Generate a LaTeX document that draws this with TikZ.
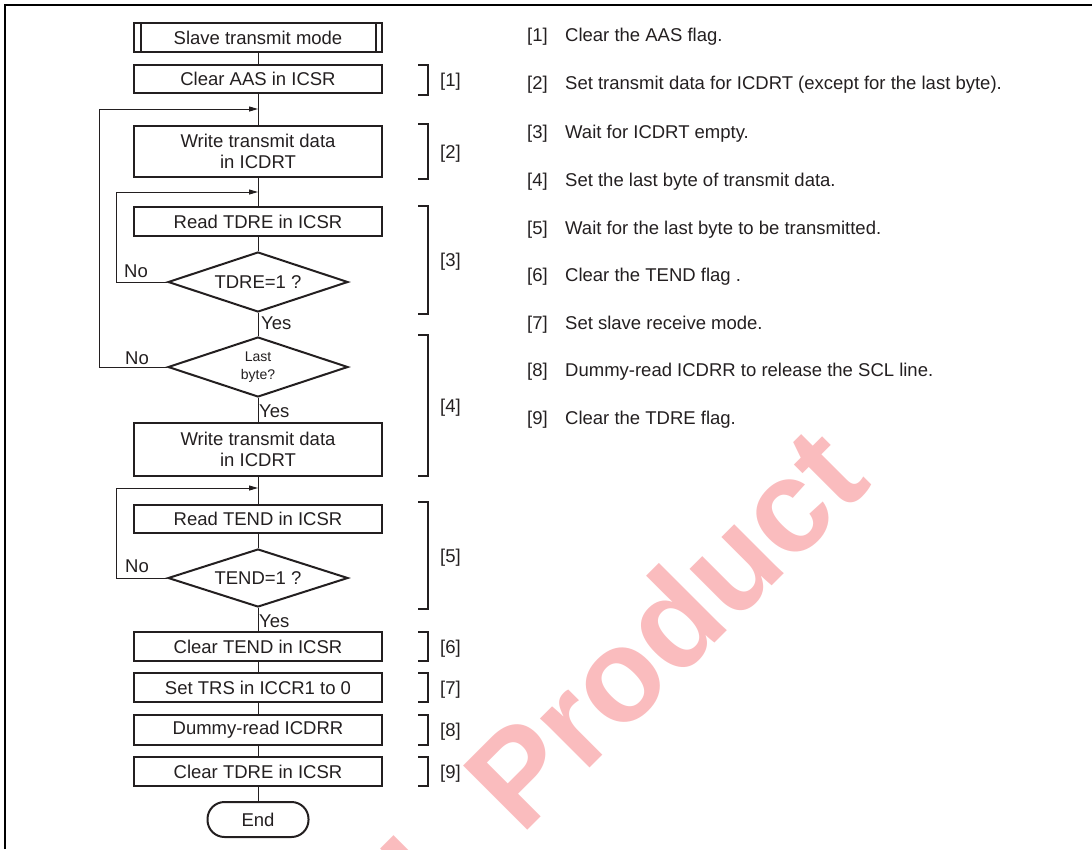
\documentclass[tikz,border=0pt]{standalone}
\usepackage{fontspec}
\setmainfont{Liberation Sans}
\usetikzlibrary{arrows.meta, shapes.geometric}
\definecolor{wmark}{HTML}{FABCBE}
\definecolor{ink}{HTML}{231F20}
\newcommand{\fsz}{\fontsize{18.5}{21.7}\selectfont}
\tikzset{
  box/.style={draw=ink, line width=2pt, fill=white, align=center, font=\fsz,
              minimum width=248pt, inner sep=0pt, text=ink},
  dec/.style={diamond, aspect=3, draw=ink, line width=2pt, fill=white, align=center,
              font=\fsz, minimum width=180pt, minimum height=60pt, inner sep=0pt, text=ink},
  term/.style={box, rounded corners=17pt, minimum width=101pt, minimum height=35pt},
  link/.style={draw=ink, line width=1pt},
  back/.style={link, -{Triangle[length=9pt,width=5pt]}},
  brk/.style={draw=ink, line width=1.2pt},
  tag/.style={font=\fsz, inner sep=0pt, text=ink},
  note/.style={tag, anchor=base west},
  wm/.style={font=\fontsize{132}{132}\selectfont\bfseries, text=wmark, inner sep=0pt},
}

\begin{document}
\begin{tikzpicture}[x=1pt, y=-1pt]
\useasboundingbox (0,0) rectangle (1092,849);

% ---------------- watermark ----------------
\begin{scope}
  \clip (0,0) rectangle (1092,849);
  \node[wm, rotate=45, anchor=base west] (wmk) at (438,920) {L Product};
\end{scope}

% ---------------- frame ----------------
\draw[line width=2.6pt] (5,849) -- (5,5) -- (1092,5);

% ---------------- flow ----------------
\node[box, minimum height=29pt] (start) at (258,37.5) {Slave transmit mode};
\draw[line width=2pt, ink] ([xshift=7.5pt]start.north west) -- ([xshift=7.5pt]start.south west);
\draw[line width=2pt, ink] ([xshift=-7.5pt]start.north east) -- ([xshift=-7.5pt]start.south east);
\node[box, minimum height=28pt] (aas) at (258,79) {Clear AAS in ICSR};
\node[box, minimum height=51pt] (wr1) at (258,151.5) {Write transmit data\\in ICDRT};
\node[box, minimum height=29pt] (rdtdre) at (258,221.5) {Read TDRE in ICSR};
\node[dec] (qtdre) at (258,282) {TDRE=1 ?};
\node[dec, font=\fontsize{14}{18}\selectfont] (qlast) at (258,367) {Last\\byte?};
\node[box, minimum height=53pt] (wr2) at (258,449.5) {Write transmit data\\in ICDRT};
\node[box, minimum height=28pt] (rdtend) at (258,518.5) {Read TEND in ICSR};
\node[dec, minimum height=58pt] (qtend) at (258,578) {TEND=1 ?};
\node[box, minimum height=29pt] (clrtend) at (258,646.5) {Clear TEND in ICSR};
\node[box, minimum height=29pt] (settrs) at (258,687.5) {Set TRS in ICCR1 to 0};
\node[box, minimum height=30pt] (dummy) at (258,730) {Dummy-read ICDRR};
\node[box, minimum height=29pt] (clrtdre) at (258,771.5) {Clear TDRE in ICSR};
\node[term] (fin) at (258,819.5) {End};

\coordinate (j1) at (258,109);
\coordinate (j2) at (258,192);
\coordinate (j3) at (258,488);

\draw[link] (start) -- (aas);
\draw[link] (aas) -- (wr1);
\draw[link] (wr1) -- (rdtdre);
\draw[link] (rdtdre) -- (qtdre);
\draw[link] (qtdre) -- (qlast);
\draw[link] (qlast) -- (wr2);
\draw[link] (wr2) -- (rdtend);
\draw[link] (rdtend) -- (qtend);
\draw[link] (qtend) -- (clrtend);
\draw[link] (clrtend) -- (settrs);
\draw[link] (settrs) -- (dummy);
\draw[link] (dummy) -- (clrtdre);
\draw[link] (clrtdre) -- (fin);

\draw[back] (qlast.west) -- ++(-68,0) |- (j1);
\draw[back] (qtdre.west) -- ++(-51,0) |- (j2);
\draw[back] (qtend.west) -- ++(-51,0) |- (j3);

\node[note] (no1) at (124,277) {No};
\node[note] (yes1) at (261,329) {Yes};
\node[note] (no2) at (125,364) {No};
\node[note] (yes2) at (259,417) {Yes};
\node[note] (no3) at (125,572) {No};
\node[note] (yes3) at (259,627) {Yes};

% ---------------- brackets ----------------
\foreach \a/\b/\n in {65/95/1, 124/179/2, 206/314/3, 335/476/4, 502/609/5,
                      632/661/6, 673/702/7, 715/745/8, 757/786/9} {
  \draw[brk] (418,\a) -- (428,\a) -- (428,\b) -- (418,\b);
  \node[note] (br\n) at (440,{(\a+\b)/2+6.6}) {[\n]};
}

% ---------------- notes ----------------
\foreach \y/\n/\t in {35/1/{Clear the AAS flag.},
                      83/2/{Set transmit data for ICDRT (except for the last byte).},
                      132/3/{Wait for ICDRT empty.},
                      180/4/{Set the last byte of transmit data.},
                      228/5/{Wait for the last byte to be transmitted.},
                      275/6/{Clear the TEND flag .},
                      323/7/{Set slave receive mode.},
                      370/8/{Dummy-read ICDRR to release the SCL line.},
                      418/9/{Clear the TDRE flag.}} {
  \node[note] (nn\n) at (527,\y+6.6) {[\n]};
  \node[note] (nt\n) at (565,\y+6.6) {\t};
}

\end{tikzpicture}
\end{document}
